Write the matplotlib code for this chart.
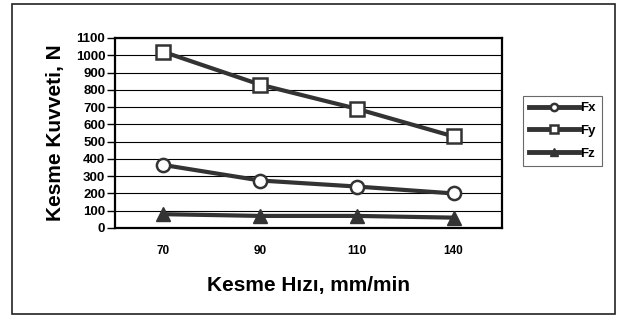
import matplotlib.pyplot as plt
from matplotlib.patches import Rectangle

# veriler
hiz = ["70", "90", "110", "140"]
fx = [365, 275, 240, 200]
fy = [1020, 830, 690, 530]
fz = [80, 70, 70, 60]

plt.rcParams['font.family'] = ['Liberation Sans', 'DejaVu Sans']
plt.rcParams['font.weight'] = 'bold'

fig = plt.figure(figsize=(6.24, 3.27), dpi=100)
ax = fig.add_axes([115/624, 1-228/327, 387/624, 190/327])

# dış çerçeve
fig.patches.append(Rectangle((12/624, 1-314/327), 603/624, 310/327, transform=fig.transFigure,
                             fill=False, edgecolor='#222222', lw=1.2))

x = range(len(hiz))
renk = '#333333'
ax.plot(x, fx, color=renk, lw=3, marker='o', ms=9.5, mfc='white', mec=renk, mew=1.8, label='Fx', zorder=3)
ax.plot(x, fy, color=renk, lw=3, marker='s', ms=10.5, mfc='white', mec=renk, mew=1.8, label='Fy', zorder=3)
ax.plot(x, fz, color=renk, lw=3, marker='^', ms=10.5, mfc=renk, mec=renk, label='Fz', zorder=3)

ax.set_xlim(-0.5, 3.5)
ax.set_ylim(0, 1100)
ax.set_yticks(range(0, 1101, 100))
ax.set_xticks(list(x))
ax.set_xticklabels(hiz)
ax.yaxis.grid(True, color='black', lw=0.8)
ax.set_axisbelow(True)
ax.tick_params(axis='y', labelsize=9.5, length=6, width=1, pad=1)
ax.tick_params(axis='x', labelsize=8.5, length=0, pad=12)
for s in ax.spines.values():
    s.set_linewidth(1.6)

ax.set_xlabel("Kesme Hızı, mm/min", fontsize=15, fontweight='bold', labelpad=14)
ax.set_ylabel("Kesme Kuvveti, N", fontsize=15, fontweight='bold', labelpad=8)

leg = ax.legend(loc='upper left', bbox_to_anchor=(523/624, 1-96/327), bbox_transform=fig.transFigure,
                fontsize=9.5, frameon=True, fancybox=False, edgecolor='#444444', handlelength=3.8,
                handletextpad=0.1, borderaxespad=0, borderpad=0.45, labelspacing=0.8, markerscale=0.55)
leg.get_frame().set_linewidth(0.8)
for h in leg.get_lines():
    h.set_linewidth(3.5)

plt.savefig("out.png", dpi=100)
